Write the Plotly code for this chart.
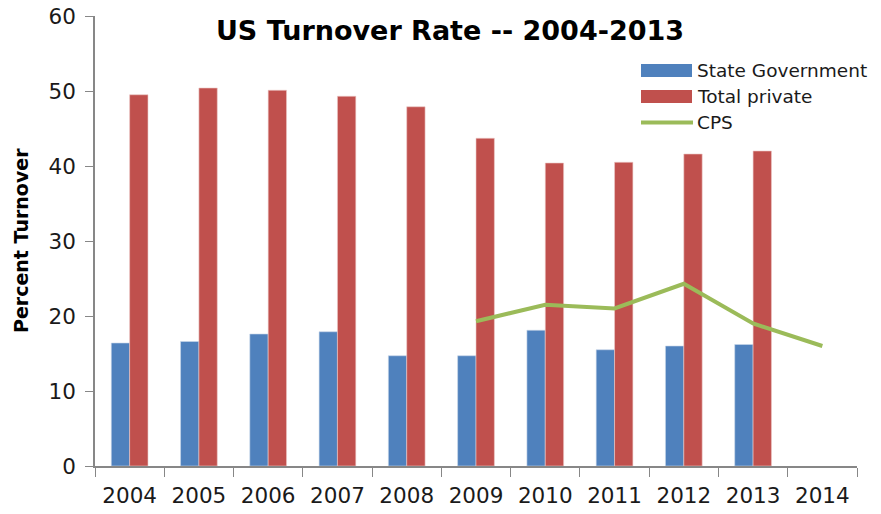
import plotly.graph_objects as go

years = ["2004", "2005", "2006", "2007", "2008", "2009", "2010", "2011", "2012", "2013", "2014"]
state_gov = [16.4, 16.6, 17.6, 17.9, 14.7, 14.7, 18.1, 15.5, 16.0, 16.2, None]
total_private = [49.5, 50.4, 50.1, 49.3, 47.9, 43.7, 40.4, 40.5, 41.6, 42.0, None]
cps_years = ["2009", "2010", "2011", "2012", "2013", "2014"]
cps = [19.3, 21.5, 21.0, 24.3, 19.0, 16.0]

BLUE, RED, GREEN = "#4F81BD", "#C0504D", "#9BBB59"
FONT = "'DejaVu Sans', sans-serif"
OFF = 8  # page body margin
W, H = 881 - OFF, 514 - OFF
# plot area in page pixels: x 95..857, y 16..466
L, R, T, B = 95 - OFF, W - (857 - OFF), 16 - OFF, H - (466 - OFF)
pw, ph = W - L - R, H - T - B

def px(x):  # page x -> paper
    return (x - OFF - L) / pw

def py(y):  # page y -> paper
    return (H - B - (y - OFF)) / ph

fig = go.Figure()
fig.add_trace(go.Bar(x=years, y=state_gov, name="State Government", showlegend=False,
                     marker=dict(color=BLUE, line=dict(color="#c9d7ea", width=0.6))))
fig.add_trace(go.Bar(x=years, y=total_private, name="Total private", showlegend=False,
                     marker=dict(color=RED, line=dict(color="#ecc9c8", width=0.6))))
fig.add_trace(go.Scatter(x=cps_years, y=cps, name="CPS", mode="lines", showlegend=False,
                         line=dict(color=GREEN, width=4)))

# custom legend (wide swatches like the original)
legend_items = [("State Government", BLUE, "rect", 70.5),
                ("Total private", RED, "rect", 96.5),
                ("CPS", GREEN, "line", 122.5)]
shapes = []
annotations = []
for label, color, kind, yc in legend_items:
    if kind == "rect":
        shapes.append(dict(type="rect", xref="paper", yref="paper",
                           x0=px(641), x1=px(692), y0=py(yc - 6.5), y1=py(yc + 6.5),
                           fillcolor=color, line=dict(width=0)))
    else:
        shapes.append(dict(type="line", xref="paper", yref="paper",
                           x0=px(641), x1=px(693), y0=py(yc), y1=py(yc),
                           line=dict(color=color, width=4)))
    annotations.append(dict(text=label, xref="paper", yref="paper", x=px(695), y=py(yc),
                            xanchor="left", yanchor="middle", showarrow=False,
                            font=dict(size=18.5, color="#1a1a1a", family=FONT)))

# y-axis title
annotations.append(dict(text="<b>Percent Turnover</b>", xref="paper", yref="paper",
                        x=px(21), y=py(241), xanchor="center", yanchor="middle",
                        textangle=-90, showarrow=False,
                        font=dict(size=19, color="black", family=FONT)))

fig.update_layout(
    width=W, height=H,
    margin=dict(l=L, r=R, t=T, b=B),
    paper_bgcolor="white", plot_bgcolor="white",
    barmode="group", bargap=0.47, bargroupgap=0,
    font=dict(family=FONT, color="#1a1a1a"),
    title=dict(text="<b>US Turnover Rate -- 2004-2013</b>", x=(450 - OFF) / W, xanchor="center",
               y=1 - (31 - OFF) / H, yanchor="middle", font=dict(size=27, color="black")),
    shapes=shapes, annotations=annotations,
)
fig.update_xaxes(type="category", showline=True, linecolor="#878787", linewidth=1.5,
                 ticks="outside", tickson="boundaries", ticklen=9, tickcolor="#878787",
                 tickwidth=1.2, tickfont=dict(size=21.5, color="#1a1a1a"), showgrid=False,
                 automargin=False, ticklabelstandoff=9, ticklabeloverflow="allow")
fig.update_yaxes(range=[0, 60], dtick=10, showline=True, linecolor="#878787", linewidth=1.5,
                 ticks="outside", ticklen=8, tickcolor="#878787", tickwidth=1.2,
                 showgrid=False, zeroline=False, automargin=False, ticklabelstandoff=5,
                 ticklabeloverflow="allow",
                 tickfont=dict(size=21.5, color="#1a1a1a"))

fig.write_html("out.html")
